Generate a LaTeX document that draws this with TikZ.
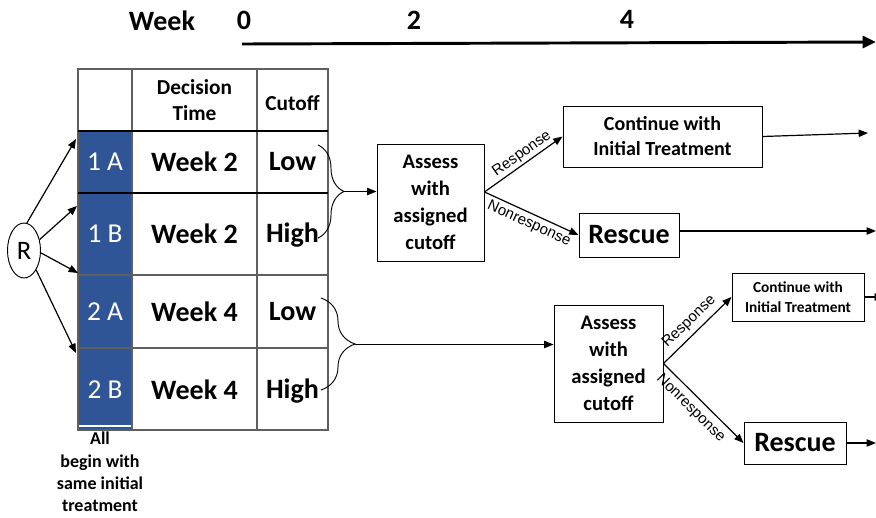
\documentclass[tikz,border=0pt]{standalone}
\usepackage{fontspec}
\setmainfont{Carlito}
\newfontfamily\lblfont{Liberation Sans}
\usetikzlibrary{arrows.meta,shapes.geometric,decorations.pathreplacing,calc}

\definecolor{armblue}{HTML}{2F5597}
\definecolor{gridgray}{HTML}{5F5F5F}

\begin{document}
\begin{tikzpicture}[x=0.75pt,y=0.75pt,yscale=-1,xscale=1,
  arr/.style={-{Triangle[length=7pt,width=5.5pt]}, line width=0.9pt},
  box/.style={draw, line width=0.7pt, inner sep=0pt, align=center},
  bigtxt/.style={font=\fontsize{21}{25}\selectfont\bfseries},
  armtxt/.style={text=white, font=\fontsize{20.5}{24}\selectfont},
  hdrtxt/.style={font=\fontsize{16}{20}\selectfont\bfseries, align=center},
  asstxt/.style={font=\fontsize{15.5}{20.3}\selectfont\bfseries},
  edgelbl/.style={font=\lblfont\fontsize{11.3}{13}\selectfont, inner sep=1.5pt},
  bracel/.style={decorate, decoration={brace, amplitude=#1}, line width=0.7pt}
]
\useasboundingbox (0,0) rectangle (876,518);

% time axis
\node[bigtxt] (wk) at (162,21) {Week};
\node[bigtxt] (t0) at (244,20) {0};
\node[bigtxt] (t2) at (414,20) {2};
\node[bigtxt] (t4) at (627,19) {4};
\coordinate (tstart) at (242,44);
\coordinate (tend) at (876,42);
\draw[line width=2.2pt, -{Triangle[length=10pt,width=9pt]}] (tstart) -- (tend);

% table
\fill[armblue] (78,131) rectangle (132,430);
\draw[white, line width=0.8pt] (78,426) -- (132,426);
\draw[gridgray, line width=0.8pt] (78,69) rectangle (328,430);
\draw[gridgray, line width=0.8pt] (132,69) -- (132,430);
\draw[gridgray, line width=0.8pt] (257,69) -- (257,430);
\draw[black, line width=0.8pt] (78,131) -- (328,131);
\draw[black, line width=0.8pt] (78,193) -- (328,193);
\draw[gridgray, line width=0.8pt] (78,275) -- (328,275);
\draw[gridgray, line width=0.8pt] (78,348) -- (328,348);

\node[hdrtxt] (hdec) at (194.5,100) {Decision\\Time};
\node[hdrtxt] (hcut) at (292.5,103) {Cutoff};

\node[armtxt] (g1a) at (105,162) {1 A};
\node[armtxt] (g1b) at (105,234) {1 B};
\node[armtxt] (g2a) at (105,312) {2 A};
\node[armtxt] (g2b) at (105,390) {2 B};

\node[bigtxt] (w1a) at (194.5,162) {Week 2};
\node[bigtxt] (w1b) at (194.5,234) {Week 2};
\node[bigtxt] (w2a) at (194.5,312) {Week 4};
\node[bigtxt] (w2b) at (194.5,390) {Week 4};

\node[bigtxt] (c1a) at (292.5,162) {Low};
\node[bigtxt] (c1b) at (292.5,235) {High};
\node[bigtxt] (c2a) at (292.5,312) {Low};
\node[bigtxt] (c2b) at (292.5,391) {High};

\node[font=\fontsize{13.5}{16.8}\selectfont\bfseries, align=center] (note) at (100,472) {All\\begin with\\same initial\\treatment};

% randomisation
\node[draw, ellipse, line width=0.7pt, minimum width=24.75pt, minimum height=41.25pt, inner sep=0pt, font=\fontsize{20}{24}\selectfont] (R) at (24,250.5) {R};
\coordinate (e1) at (76,139);
\coordinate (e2) at (77,206);
\coordinate (e3) at (78,273);
\coordinate (e4) at (76,353);
\draw[arr] (R.84) -- (e1);
\draw[arr] (R.35) -- (e2);
\draw[arr] (R.-8) -- (e3);
\draw[arr] (R.-58) -- (e4);

% week 2 arms
\coordinate (b1top) at (318,145);
\coordinate (b1bot) at (318,238);
\coordinate (b1tip) at (344,191.5);
\draw[bracel=19.5pt] (b1top) -- (b1bot);
\node[box, asstxt, minimum width=80.3pt, minimum height=87.8pt] (as1) at (430.5,202.5) {Assess\\with\\assigned\\cutoff};
\node[box, font=\fontsize{15}{18.75}\selectfont\bfseries, minimum width=149.3pt, minimum height=45.8pt] (ct1) at (662.5,136.5) {Continue with\\Initial Treatment};
\node[box, bigtxt, minimum width=75pt, minimum height=33pt] (rs1) at (629,235) {Rescue};
\draw[arr] (b1tip) -- (b1tip -| as1.west);
\coordinate (f1) at ($(as1.east)+(0,-10.5)$);
\draw[arr] (f1) -- node[edgelbl, rotate=35.4, anchor=south, pos=0.55] {Response} (ct1.west);
\draw[arr] (f1) -- node[edgelbl, rotate=-24.6, anchor=north, pos=0.52, inner sep=2.5pt] {Nonresponse} (rs1.west);
\coordinate (o1) at (868,133);
\coordinate (o2) at (876,231);
\draw[arr] (ct1.east) -- (o1);
\draw[arr] (o2 -| rs1.east) -- (o2);

% week 4 arms
\coordinate (b2top) at (321,298);
\coordinate (b2bot) at (321,390);
\coordinate (b2tip) at (355,344.5);
\draw[bracel=25.5pt] (b2top) -- (b2bot);
\node[box, asstxt, minimum width=81.8pt, minimum height=87.8pt] (as2) at (608.5,363.5) {Assess\\with\\assigned\\cutoff};
\node[box, font=\fontsize{11.5}{15.5}\selectfont\bfseries, minimum width=99pt, minimum height=36pt] (ct2) at (798,297) {Continue with\\Initial Treatment};
\node[box, bigtxt, minimum width=76.5pt, minimum height=31.5pt] (rs2) at (795,443) {Rescue};
\draw[arr] (b2tip) -- (b2tip -| as2.west);
\draw[arr] (as2.east) -- node[edgelbl, rotate=44, anchor=south, pos=0.5, inner sep=3.5pt] {Response} (ct2.west);
\draw[arr] (as2.east) -- node[edgelbl, rotate=-44.5, anchor=north, pos=0.45, inner sep=4pt] {Nonresponse} (rs2.west);
\coordinate (o3) at (884,297);
\coordinate (o4) at (876,443);
\draw[arr] (ct2.east) -- (o3);
\draw[arr] (rs2.east) -- (o4);
\end{tikzpicture}
\end{document}
